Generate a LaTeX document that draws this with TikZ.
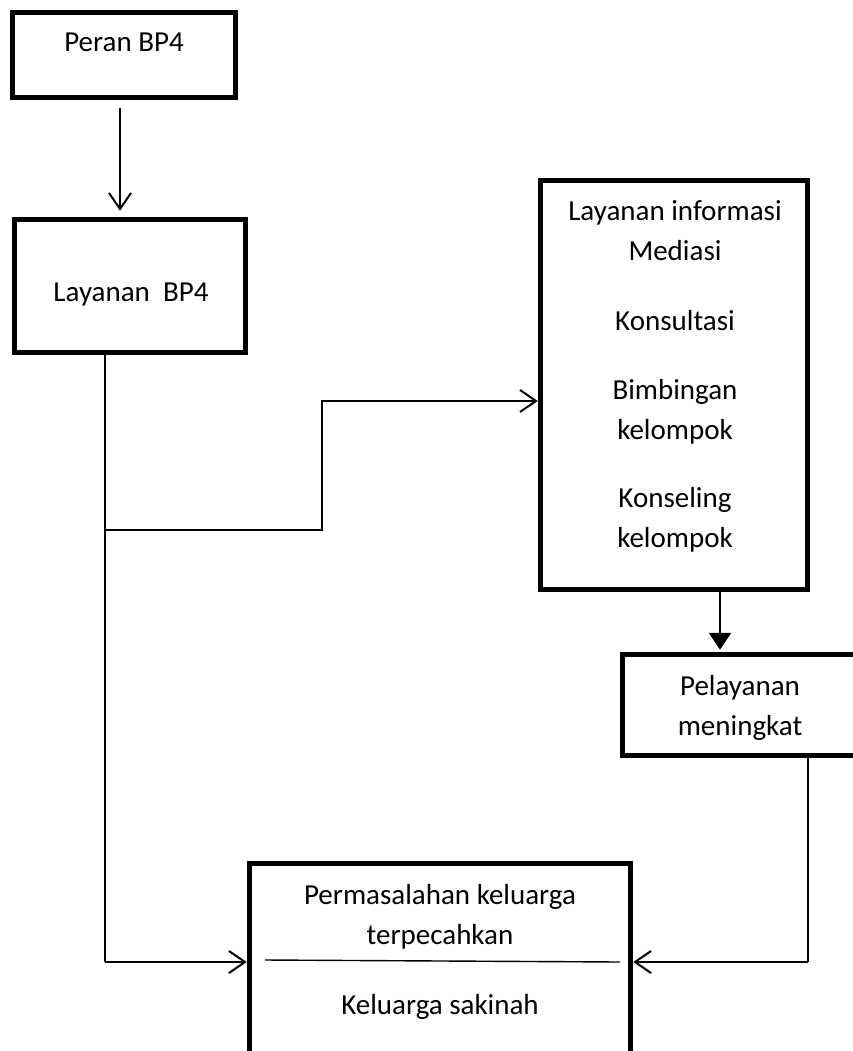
\documentclass[tikz,border=0pt]{standalone}
\usepackage{fontspec}
\setmainfont{Carlito}
\usetikzlibrary{arrows.meta}
\begin{document}
\begin{tikzpicture}[x=1pt,y=-1pt,
  box/.style={draw, line width=5.5pt, rectangle, inner sep=0pt},
  txt/.style={anchor=base, inner sep=0pt, font=\fontsize{29}{35}\selectfont},
  conn/.style={line width=2pt},
  arr/.style={conn, -{Straight Barb[length=16pt,width=22pt]}},
  farr/.style={conn, -{Triangle[length=17pt,width=22pt]}}]
\useasboundingbox (0,0) rectangle (852,1051);
\fill[white] (0,0) rectangle (852,1051);
% boxes
\node[box, minimum width=223pt, minimum height=85pt] (b1) at (124,55) {};
\node[box, minimum width=231pt, minimum height=133pt] (b2) at (130,286) {};
\node[box, minimum width=267pt, minimum height=409pt] (b3) at (674,385) {};
\node[box, minimum width=237pt, minimum height=101pt] (b4) at (741,705) {};
\node[box, minimum width=381pt, minimum height=216pt] (b5) at (440,971.5) {};
% texts
\node[txt] (t1) at (124,52) {Peran BP4};
\node[txt] (t2) at (131,301) {Layanan\ \ BP4};
\node[txt] (t3a) at (675,220) {Layanan informasi};
\node[txt] (t3b) at (675,260) {Mediasi};
\node[txt] (t3c) at (675,330) {Konsultasi};
\node[txt] (t3d) at (675,399) {Bimbingan};
\node[txt] (t3e) at (675,439) {kelompok};
\node[txt] (t3f) at (675,507) {Konseling};
\node[txt] (t3g) at (675,547) {kelompok};
\node[txt] (t4a) at (740,695) {Pelayanan};
\node[txt] (t4b) at (740,735) {meningkat};
\node[txt] (t5a) at (440,904) {Permasalahan keluarga};
\node[txt] (t5b) at (440,944) {terpecahkan};
\node[txt] (t5c) at (440,1014) {Keluarga sakinah};
% divider
\draw[line width=1.4pt] (265,960) -- (620,962);
% coordinates
\coordinate (j1) at (105,530);
\coordinate (j2) at (322,530);
\coordinate (j3) at (322,401);
\coordinate (k1) at (105,962);
\coordinate (k2) at (808,962);
% connectors
\draw[arr, shorten <=8pt, shorten >=6pt] ([xshift=-4pt]b1.south) -- ([xshift=-10pt]b2.north);
\draw[conn, line width=1.6pt] ([xshift=-25pt]b2.south) -- (k1);
\draw[arr] (k1) -- (k1 -| b5.west);
\draw[arr] (j1) -- (j2) -- (j3) -- (j3 -| b3.west);
\draw[farr, shorten >=2pt] ([xshift=46pt]b3.south) -- ([xshift=-21pt]b4.north);
\draw[conn, line width=1.6pt] ([xshift=67pt]b4.south) -- (k2);
\draw[arr] (k2) -- (k2 -| b5.east);
\end{tikzpicture}
\end{document}
